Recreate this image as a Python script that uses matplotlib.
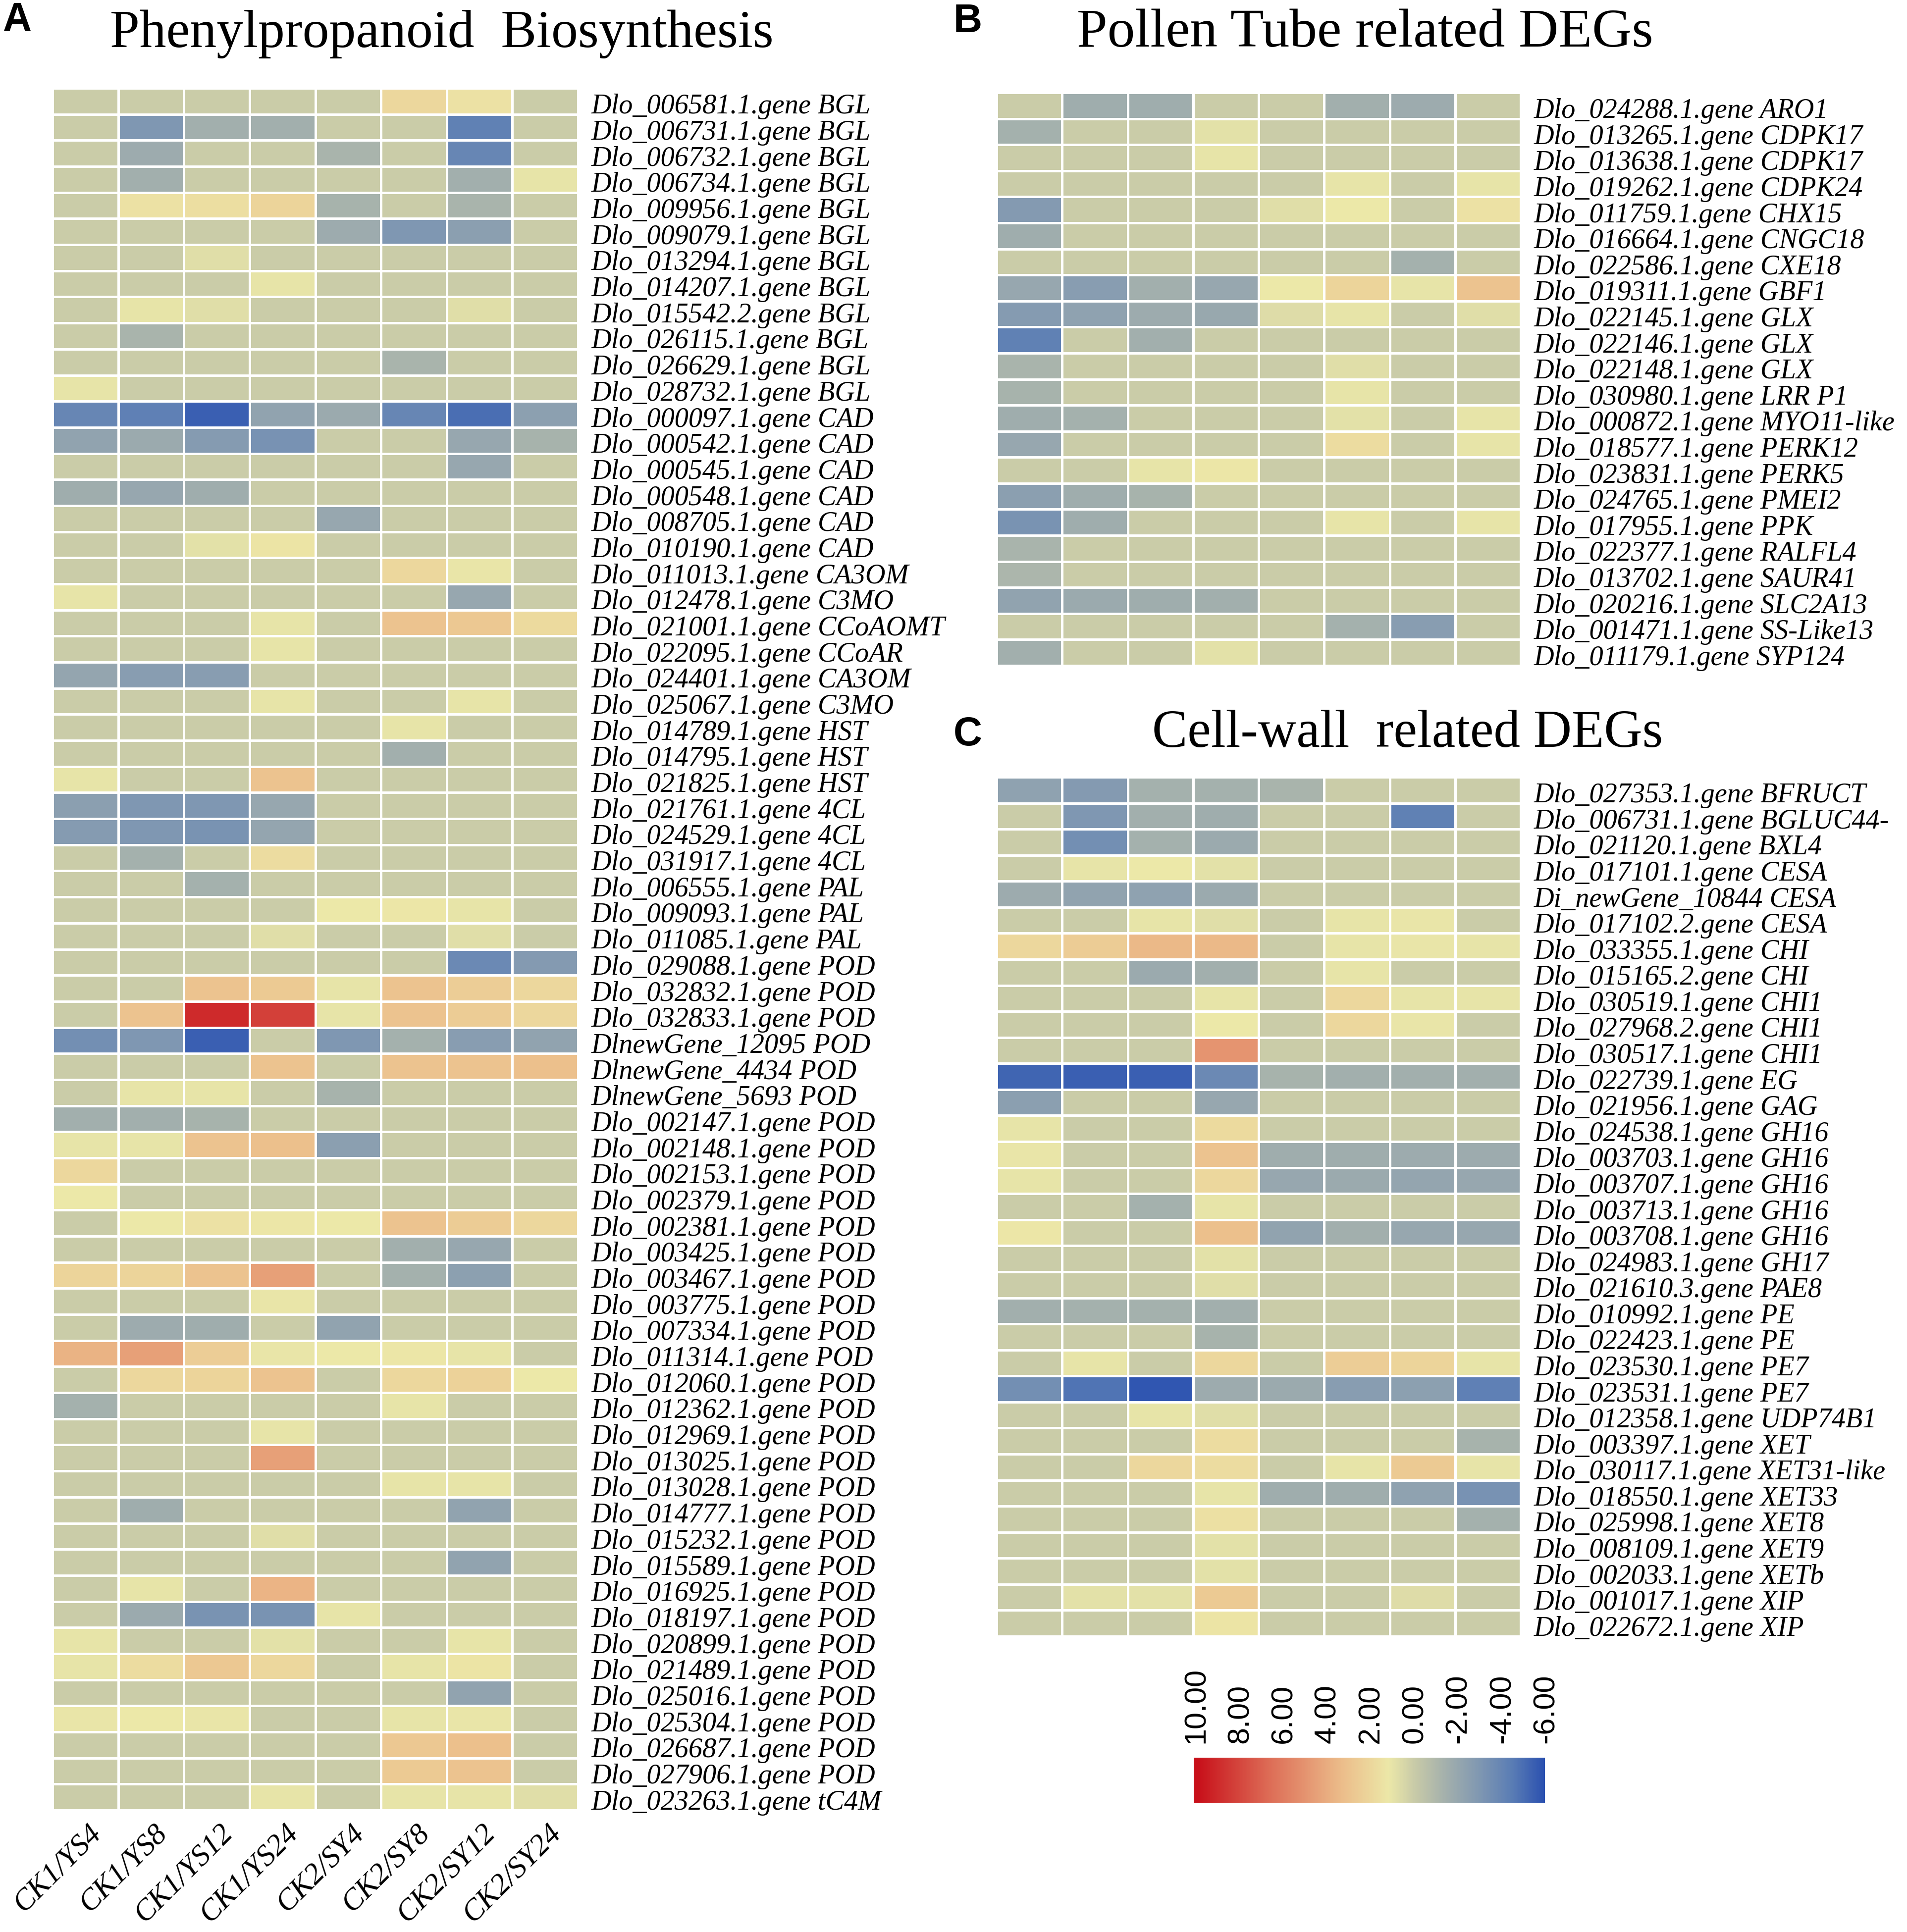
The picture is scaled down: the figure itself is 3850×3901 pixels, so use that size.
import matplotlib
matplotlib.use('Agg')
import matplotlib.pyplot as plt
import numpy as np
from matplotlib.colors import LinearSegmentedColormap, Normalize
from matplotlib.transforms import ScaledTranslation

W, H = 3850, 3901

samples = ['CK1/YS4', 'CK1/YS8', 'CK1/YS12', 'CK1/YS24', 'CK2/SY4', 'CK2/SY8', 'CK2/SY12', 'CK2/SY24']

genes_a = [
    'Dlo_006581.1.gene BGL', 'Dlo_006731.1.gene BGL', 'Dlo_006732.1.gene BGL', 'Dlo_006734.1.gene BGL',
    'Dlo_009956.1.gene BGL', 'Dlo_009079.1.gene BGL', 'Dlo_013294.1.gene BGL', 'Dlo_014207.1.gene BGL',
    'Dlo_015542.2.gene BGL', 'Dlo_026115.1.gene BGL', 'Dlo_026629.1.gene BGL', 'Dlo_028732.1.gene BGL',
    'Dlo_000097.1.gene CAD', 'Dlo_000542.1.gene CAD', 'Dlo_000545.1.gene CAD', 'Dlo_000548.1.gene CAD',
    'Dlo_008705.1.gene CAD', 'Dlo_010190.1.gene CAD', 'Dlo_011013.1.gene CA3OM', 'Dlo_012478.1.gene C3MO',
    'Dlo_021001.1.gene CCoAOMT', 'Dlo_022095.1.gene CCoAR', 'Dlo_024401.1.gene CA3OM', 'Dlo_025067.1.gene C3MO',
    'Dlo_014789.1.gene HST', 'Dlo_014795.1.gene HST', 'Dlo_021825.1.gene HST', 'Dlo_021761.1.gene 4CL',
    'Dlo_024529.1.gene 4CL', 'Dlo_031917.1.gene 4CL', 'Dlo_006555.1.gene PAL', 'Dlo_009093.1.gene PAL',
    'Dlo_011085.1.gene PAL', 'Dlo_029088.1.gene POD', 'Dlo_032832.1.gene POD', 'Dlo_032833.1.gene POD',
    'DlnewGene_12095 POD', 'DlnewGene_4434 POD', 'DlnewGene_5693 POD', 'Dlo_002147.1.gene POD',
    'Dlo_002148.1.gene POD', 'Dlo_002153.1.gene POD', 'Dlo_002379.1.gene POD', 'Dlo_002381.1.gene POD',
    'Dlo_003425.1.gene POD', 'Dlo_003467.1.gene POD', 'Dlo_003775.1.gene POD', 'Dlo_007334.1.gene POD',
    'Dlo_011314.1.gene POD', 'Dlo_012060.1.gene POD', 'Dlo_012362.1.gene POD', 'Dlo_012969.1.gene POD',
    'Dlo_013025.1.gene POD', 'Dlo_013028.1.gene POD', 'Dlo_014777.1.gene POD', 'Dlo_015232.1.gene POD',
    'Dlo_015589.1.gene POD', 'Dlo_016925.1.gene POD', 'Dlo_018197.1.gene POD', 'Dlo_020899.1.gene POD',
    'Dlo_021489.1.gene POD', 'Dlo_025016.1.gene POD', 'Dlo_025304.1.gene POD', 'Dlo_026687.1.gene POD',
    'Dlo_027906.1.gene POD', 'Dlo_023263.1.gene tC4M',
]

values_a = [
    [0, 0, 0, 0, 0, 2, 1.5, 0],
    [0, -3, -1.5, -1.5, 0, 0, -4.2, 0],
    [0, -1.7, 0, 0, -1.2, 0, -4, 0],
    [0, -1.5, 0, 0, 0, 0, -1.5, 1],
    [0, 1.5, 1.7, 2.2, -1.3, 0, -1.2, 0],
    [0, 0, 0, 0, -1.7, -3, -2.5, 0],
    [0, 0, 0.8, 0, 0, 0, 0, 0],
    [0, 0, 0, 1, 0, 0, 0, 0],
    [0, 1, 0.8, 0, 0, 0, 0.8, 0],
    [0, -1.2, 0, 0, 0, 0, 0, 0],
    [0, 0, 0, 0, 0, -1.2, 0, 0],
    [1, 0, 0, 0, 0, 0, 0, 0],
    [-4, -4.3, -5.5, -2.2, -1.8, -4, -5, -2.4],
    [-2.2, -1.8, -2.7, -3.3, 0, 0, -2, -1.3],
    [0, 0, 0, 0, 0, 0, -2, 0],
    [-1.6, -2, -1.6, 0, 0, 0, 0, 0],
    [0, 0, 0, 0, -2, 0, 0, 0],
    [0, 0, 0.9, 1.4, 0, 0, 0, 0],
    [0, 0, 0, 0, 0, 2, 1.1, 0],
    [1, 0, 0, 0, 0, 0, -2, 0],
    [0, 0, 0, 1, 0, 3, 2.8, 1.9],
    [0, 0, 0, 1, 0, 0, 0, 0],
    [-2.1, -2.6, -2.6, 0, 0, 0, 0, 0],
    [0, 0, 0, 1, 0, 0, 1, 0],
    [0, 0, 0, 0, 0, 1, 0, 0],
    [0, 0, 0, 0, 0, -1.5, 0, 0],
    [1, 0, 0, 3, 0, 0, 0, 0],
    [-2.5, -3, -3, -2, 0, 0, 0, 0],
    [-2.7, -3, -3.2, -2.1, 0, 0, 0, 0],
    [0, -1.4, 0, 1.8, 0, 0, 0, 0],
    [0, 0, -1.4, 0, 0, 0, 0, 0],
    [0, 0, 0, 0, 1.2, 1.3, 1, 0],
    [0, 0, 0, 0.8, 0, 0, 0.8, 0],
    [0, 0, 0, 0, 0, 0, -3.8, -2.8],
    [0, 0, 3, 2.7, 1, 3, 2.5, 2],
    [0, 3, 9, 8.3, 1, 3, 2.6, 2],
    [-3.5, -3, -5.5, 0, -3, -1.4, -2.6, -2.2],
    [0, 0, 0, 3, 0, 3, 3, 3.2],
    [0, 1, 1, 0, -1.3, 0, 0, 0],
    [-1.5, -1.5, -1.3, 0, 0, 0, 0, 0],
    [1, 1, 3, 3.2, -2.5, 0, 0, 0],
    [2, 0, 0, 0, 0, 0, 0, 0],
    [1.2, 0, 0, 0, 0, 0, 0, 0],
    [0, 1.2, 1.5, 1.3, 1.2, 3, 2.6, 2],
    [0, 0, 0, 0, 0, -1.5, -2, 0],
    [2.2, 2.2, 3, 4.5, 0, -1.4, -2.4, 0],
    [0, 0, 0, 1.1, 0, 0, 0, 0],
    [0, -1.7, -1.6, 0, -2.2, 0, 0, 0],
    [3.8, 4.5, 2.5, 1.1, 1.2, 1.3, 1, 0],
    [0, 2, 2.2, 3, 0, 2, 2.3, 1.2],
    [-1.4, 0, 0, 0, 0, 1, 0, 0],
    [0, 0, 0, 1, 0, 0, 0, 0],
    [0, 0, 0, 4.5, 0, 0, 0, 0],
    [0, 0, 0, 0, 0, 1, 1, 0],
    [0, -1.6, 0, 0, 0, 0, -2.2, 0],
    [0, 0, 0, 0.8, 0, 0, 0, 0],
    [0, 0, 0, 0, 0, 0, -2.2, 0],
    [0, 1, 0, 3.7, 0, 0, 0, 0],
    [0, -1.8, -3.2, -3.2, 1, 0, 0, 0],
    [1, 0, 0, 0.9, 0, 0, 1, 0],
    [1, 1.8, 2.8, 2, 0, 1, 1.4, 0],
    [0, 0, 0, 0, 0, 0, -2.2, 0],
    [1.1, 1.2, 1.1, 0, 0, 1, 1.1, 0],
    [0, 0, 0, 0, 0, 2.8, 3.2, 0],
    [0, 0, 0, 0, 0, 2.7, 3, 0],
    [0, 0, 0, 1, 0, 1, 1, 0.8],
]

genes_b = [
    'Dlo_024288.1.gene ARO1', 'Dlo_013265.1.gene CDPK17', 'Dlo_013638.1.gene CDPK17', 'Dlo_019262.1.gene CDPK24',
    'Dlo_011759.1.gene CHX15', 'Dlo_016664.1.gene CNGC18', 'Dlo_022586.1.gene CXE18', 'Dlo_019311.1.gene GBF1',
    'Dlo_022145.1.gene GLX', 'Dlo_022146.1.gene GLX', 'Dlo_022148.1.gene GLX', 'Dlo_030980.1.gene LRR P1',
    'Dlo_000872.1.gene MYO11-like', 'Dlo_018577.1.gene PERK12', 'Dlo_023831.1.gene PERK5', 'Dlo_024765.1.gene PMEI2',
    'Dlo_017955.1.gene PPK', 'Dlo_022377.1.gene RALFL4', 'Dlo_013702.1.gene SAUR41', 'Dlo_020216.1.gene SLC2A13',
    'Dlo_001471.1.gene SS-Like13', 'Dlo_011179.1.gene SYP124',
]

values_b = [
    [0, -1.6, -1.6, 0, 0, -1.5, -1.7, 0],
    [-1.4, 0, 0, 0.9, 0, 0, 0, 0],
    [0, 0, 0, 1, 0, 0, 0, 0],
    [0, 0, 0, 0, 0, 1, 0, 1],
    [-2.8, 0, 0, 0, 0.8, 1.2, 0, 1.5],
    [-1.6, 0, 0, 0, 0, 0, 0, 0],
    [0, 0, 0, 0, 0, 0, -1.4, 0],
    [-2, -2.6, -1.5, -2, 1.2, 2.2, 1, 3],
    [-2.7, -2.3, -1.7, -1.9, 0.7, 1, 0, 0.8],
    [-4.2, 0, -1.5, 0, 0, 0, 0, 0],
    [-1.2, 0, 0, 0, 0, 0.8, 0, 0],
    [-1.3, 0, 0, 0, 0, 1, 0, 0],
    [-1.6, -1.4, 0, 0, 0, 0.9, 0, 1],
    [-2, 0, 0, 0, 0, 1.8, 0, 1],
    [0, 0, 1, 1.3, 0, 0, 0, 0],
    [-2.5, -1.6, -1.3, 0, 0, 0, 0, 0],
    [-3.2, -1.6, 0, 0, 0, 1, 0, 1],
    [-1.2, 0, 0, 0, 0, 0, 0, 0],
    [-1.1, 0, 0, 0, 0, 0, 0, 0],
    [-2.2, -1.8, -1.6, -1.5, 0, 0, 0, 0],
    [0, 0, 0, 0, 0, -1.4, -2.6, 0],
    [-1.5, 0, 0, 0.9, 0, 0, 0, 0],
]

genes_c = [
    'Dlo_027353.1.gene BFRUCT', 'Dlo_006731.1.gene BGLUC44-', 'Dlo_021120.1.gene BXL4', 'Dlo_017101.1.gene CESA',
    'Di_newGene_10844 CESA', 'Dlo_017102.2.gene CESA', 'Dlo_033355.1.gene CHI', 'Dlo_015165.2.gene CHI',
    'Dlo_030519.1.gene CHI1', 'Dlo_027968.2.gene CHI1', 'Dlo_030517.1.gene CHI1', 'Dlo_022739.1.gene EG',
    'Dlo_021956.1.gene GAG', 'Dlo_024538.1.gene GH16', 'Dlo_003703.1.gene GH16', 'Dlo_003707.1.gene GH16',
    'Dlo_003713.1.gene GH16', 'Dlo_003708.1.gene GH16', 'Dlo_024983.1.gene GH17', 'Dlo_021610.3.gene PAE8',
    'Dlo_010992.1.gene PE', 'Dlo_022423.1.gene PE', 'Dlo_023530.1.gene PE7', 'Dlo_023531.1.gene PE7',
    'Dlo_012358.1.gene UDP74B1', 'Dlo_003397.1.gene XET', 'Dlo_030117.1.gene XET31-like', 'Dlo_018550.1.gene XET33',
    'Dlo_025998.1.gene XET8', 'Dlo_008109.1.gene XET9', 'Dlo_002033.1.gene XETb', 'Dlo_001017.1.gene XIP',
    'Dlo_022672.1.gene XIP',
]

values_c = [
    [-2.3, -2.8, -1.4, -1.4, -1.2, 0, 0, 0],
    [0, -3, -1.5, -1.6, 0, 0, -4.2, 0],
    [0, -3.5, -1.4, -1.8, 0, 0, 0, 0],
    [0, 1, 1.2, 0.9, 0, 0, 0, 0],
    [-1.7, -2.2, -2.3, -1.8, 0, 0, 0, 0],
    [0, 0, 1, 0.8, 0, 1, 1.1, 0],
    [2, 2.6, 3.5, 3.5, 0, 1, 1.1, 1],
    [0, 0, -1.8, -1.5, 0, 1, 0, 0],
    [0, 0, 0, 1, 0, 2, 1, 1],
    [0, 0, 0, 1.2, 0, 2, 1.1, 0],
    [0, 0, 0, 5, 0, 0, 0, 0],
    [-5.3, -5.5, -5.5, -3.8, -1.3, -1.5, -1.5, -1.5],
    [-2.5, 0, 0, -2, 0, 0, 0, 0],
    [1, 0, 0, 1.9, 0, 0, 0, 0],
    [1.1, 0, 0, 3, -1.6, -1.6, -1.7, -1.7],
    [1, 0, 0, 2, -2, -1.8, -2.1, -2],
    [0, 0, -1.4, 1, 0, 0, 0, 0],
    [1.3, 0, 0, 3.2, -2.2, -1.5, -2, -2],
    [0, 0, 0, 0.9, 0, 0, 0, 0],
    [0, 0, 0, 0.8, 0, 0, 0, 0],
    [-1.5, -1.4, -1.4, -1.5, 0, 0, 0, 0],
    [0, 0, 0, -1.3, 0, 0, 0, 0],
    [0, 1, 0, 2, 0, 2.5, 2.2, 1],
    [-3.5, -4.8, -5.8, -1.7, -1.8, -2.6, -2.4, -4.3],
    [0, 0, 1, 0.8, 0, 0, 0, 0],
    [0, 0, 0, 1.8, 0, 0, 0, -1.3],
    [0, 0, 2, 1.8, 0, 1, 2.7, 1],
    [0, 0, 0, 1, -1.6, -1.6, -2.3, -3.3],
    [0, 0, 0, 1.6, 0, 0, 0, -1.4],
    [0, 0, 0, 0.9, 0, 0, 0, 0],
    [0, 0, 0, 0.9, 0, 0, 0, 0],
    [0, 0.9, 0.9, 2.7, 0, 0, 0.7, 0],
    [0, 0, 0, 1.4, 0, 0, 0, 0],
]

cbar_ticks = [10, 8, 6, 4, 2, 0, -2, -4, -6]

# colour scale
cmap_values = [-6, -4.5, -3, -1.5, 0, 1.2, 3.4, 6.8, 10]
cmap_colors = ['#2a50b0', '#5a7db5', '#7f97b2', '#a2afad', '#c9cba8', '#ece8a8', '#ecbc8a', '#dd6a55', '#c8101a']

norm = Normalize(-6, 10)
cmap = LinearSegmentedColormap.from_list('deg', [(norm(v), c) for v, c in zip(cmap_values, cmap_colors)])

SERIF = 'Liberation Serif'
SANS = 'Liberation Sans'

fig = plt.figure(figsize=(W / 100, H / 100), dpi=100, facecolor='white')


def px_axes(left, top, right, bottom):
    return fig.add_axes([left / W, 1 - bottom / H, (right - left) / W, (bottom - top) / H])


def heatmap(genes, values, left, top, right, bottom):
    ax = px_axes(left, top, right, bottom)
    data = np.array(values)
    ax.pcolormesh(data, cmap=cmap, norm=norm, edgecolors='white', linewidth=2.4)
    ax.set_xlim(0, data.shape[1])
    ax.set_ylim(data.shape[0], 0)
    ax.set_xticks([])
    ax.yaxis.tick_right()
    ax.set_yticks(np.arange(len(genes)) + 0.5)
    ax.set_yticklabels(genes, family=SERIF, style='italic', fontsize=40.5)
    ax.tick_params(axis='y', length=0, pad=19)
    # labels sit a little below the row centre in the original
    shift = ScaledTranslation(0, -5 / 100, fig.dpi_scale_trans)
    for lab in ax.get_yticklabels():
        lab.set_transform(lab.get_transform() + shift)
    for s in ax.spines.values():
        s.set_visible(False)
    return ax


ax_a = heatmap(genes_a, values_a, 106, 178, 1167, 3655)
ax_b = heatmap(genes_b, values_b, 2012, 187, 3070, 1344)
ax_c = heatmap(genes_c, values_c, 2012, 1569, 3070, 3304)

# sample names under panel A
for i, name in enumerate(samples):
    ax_a.annotate(name, xy=(i + 0.5, len(genes_a)), xycoords='data', xytext=(24, -38), textcoords='offset pixels',
                  rotation=45, rotation_mode='anchor', ha='right', va='center',
                  family=SERIF, style='italic', fontsize=44)

# colour bar
ax_bar = px_axes(2410, 3549, 3121, 3640)
ax_bar.imshow(np.linspace(10.13, -5.95, 512).reshape(1, -1), cmap=cmap, norm=norm, aspect='auto',
              extent=(10.13, -5.95, 0, 1))
ax_bar.set_xlim(10.13, -5.95)
ax_bar.set_yticks([])
ax_bar.xaxis.tick_top()
ax_bar.set_xticks(cbar_ticks)
ax_bar.set_xticklabels(['%.2f' % t for t in cbar_ticks], rotation=90, family=SANS, fontsize=44)
ax_bar.tick_params(axis='x', length=0, pad=21)
for s in ax_bar.spines.values():
    s.set_visible(False)

# panel titles
fig.text(892 / W, 1 - 95 / H, 'Phenylpropanoid  Biosynthesis', ha='center', va='baseline', family=SERIF, fontsize=77.5)
fig.text(2756 / W, 1 - 94 / H, 'Pollen Tube related DEGs', ha='center', va='baseline', family=SERIF, fontsize=80)
fig.text(2842 / W, 1 - 1508 / H, 'Cell-wall  related DEGs', ha='center', va='baseline', family=SERIF, fontsize=77)

# panel letters
fig.text(6 / W, 1 - 62 / H, 'A', ha='left', va='baseline', family=SANS, weight='bold', fontsize=58)
fig.text(1925 / W, 1 - 65 / H, 'B', ha='left', va='baseline', family=SANS, weight='bold', fontsize=58)
fig.text(1925 / W, 1 - 1505 / H, 'C', ha='left', va='baseline', family=SANS, weight='bold', fontsize=58)

fig.savefig('out.png', dpi=100, facecolor='white')
